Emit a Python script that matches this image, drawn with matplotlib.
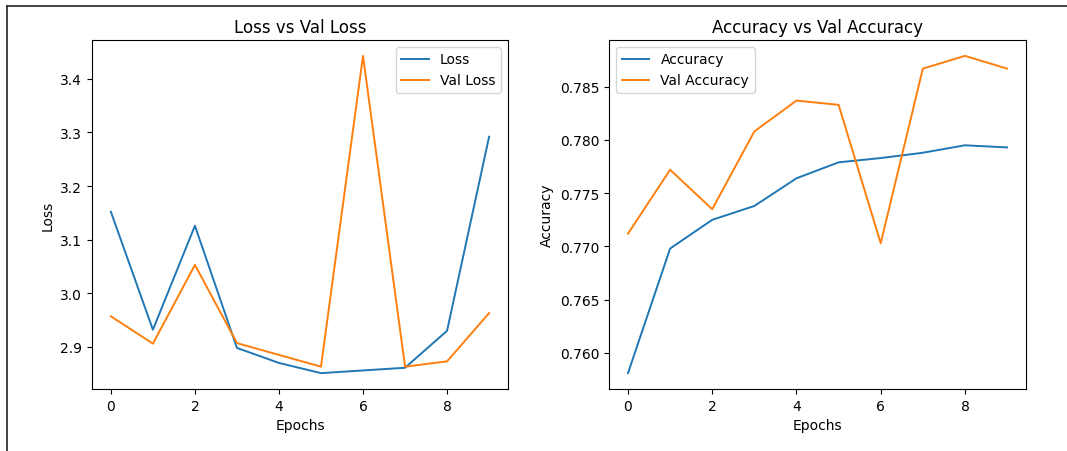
import matplotlib
matplotlib.use('Agg')
import matplotlib.pyplot as plt
from matplotlib.lines import Line2D

# Training history per epoch
epochs = list(range(10))
loss = [3.152, 2.932, 3.126, 2.898, 2.870, 2.851, 2.856, 2.861, 2.930, 3.292]
val_loss = [2.957, 2.906, 3.053, 2.907, 2.885, 2.863, 3.443, 2.863, 2.873, 2.963]
accuracy = [0.7581, 0.7698, 0.7725, 0.7738, 0.7764, 0.7779, 0.7783, 0.7788, 0.7795, 0.7793]
val_accuracy = [0.7712, 0.7772, 0.7735, 0.7808, 0.7837, 0.7833, 0.7703, 0.7867, 0.7879, 0.7867]

plt.rcParams['font.size'] = 10
plt.rcParams['lines.linewidth'] = 1.4

fig = plt.figure(figsize=(10.67, 4.52), dpi=100)
ax1 = fig.add_axes([0.0862, 0.1372, 0.3899, 0.7721])
ax2 = fig.add_axes([0.5708, 0.1372, 0.3908, 0.7721])

# Loss plot
ax1.plot(epochs, loss, label='Loss')
ax1.plot(epochs, val_loss, label='Val Loss')
ax1.set_title('Loss vs Val Loss', fontsize=12)
ax1.set_xlabel('Epochs')
ax1.set_ylabel('Loss')
ax1.legend()

# Accuracy plot
ax2.plot(epochs, accuracy, label='Accuracy')
ax2.plot(epochs, val_accuracy, label='Val Accuracy')
ax2.set_title('Accuracy vs Val Accuracy', fontsize=12)
ax2.set_xlabel('Epochs')
ax2.set_ylabel('Accuracy')
ax2.legend()

# frame lines along the top and left edge
fig.add_artist(Line2D([7 / 1067, 7 / 1067], [0, 1 - 7 / 452], color='#222222', lw=1.2))
fig.add_artist(Line2D([7 / 1067, 1], [1 - 7 / 452, 1 - 7 / 452], color='#222222', lw=1.2))

plt.savefig('out.png')
plt.close()
